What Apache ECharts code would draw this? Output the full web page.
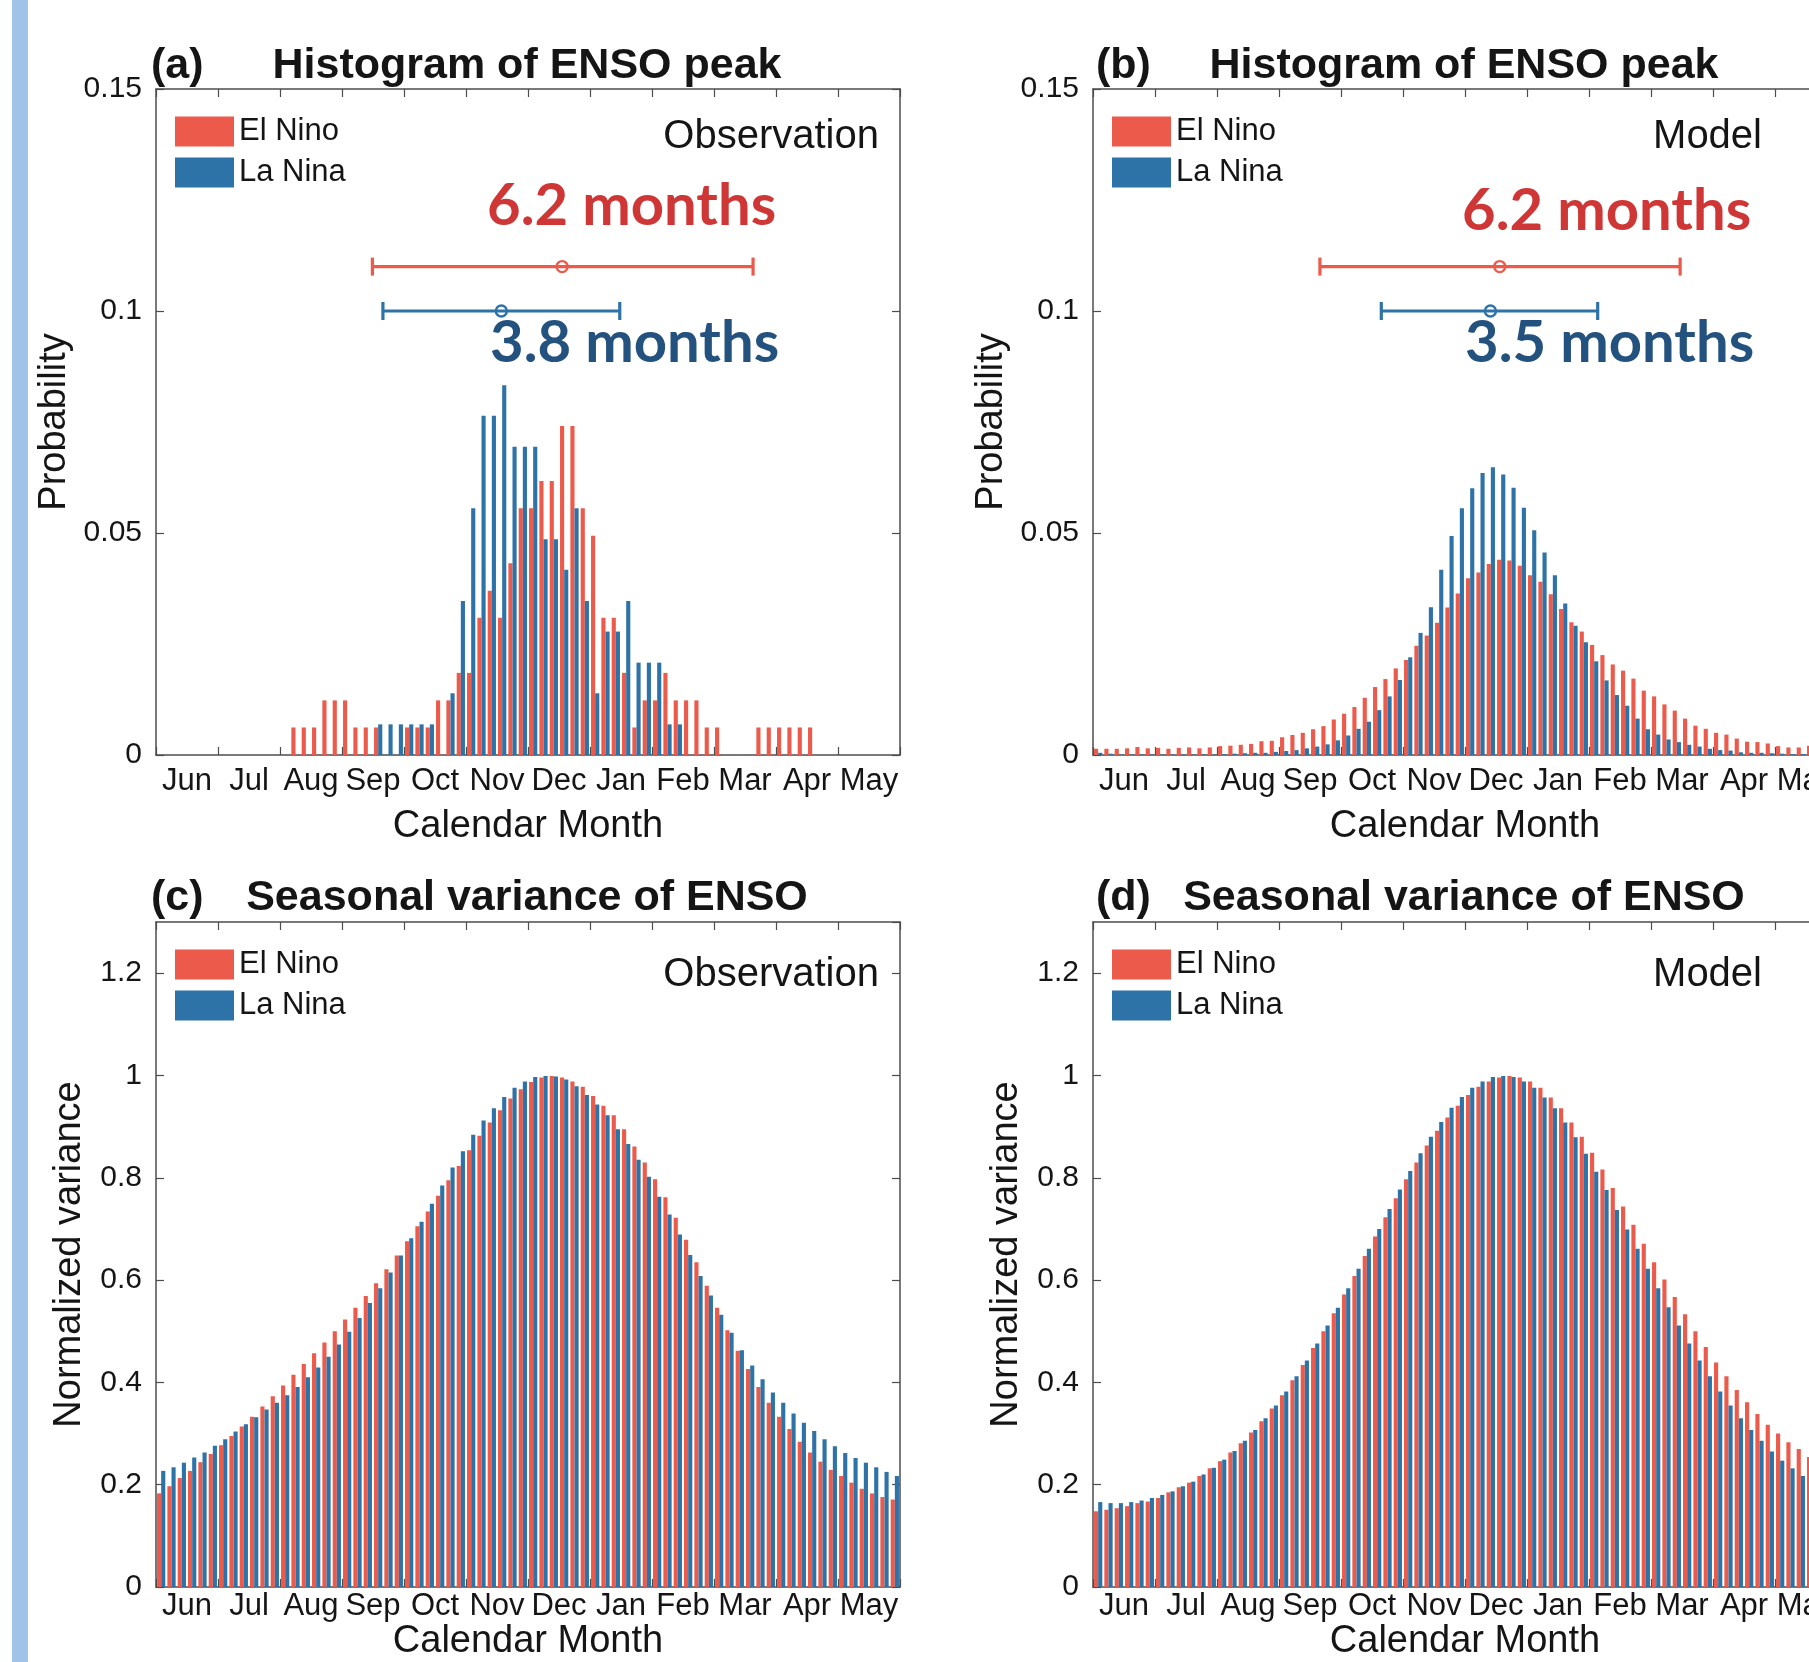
<!DOCTYPE html>
<html>
<head>
<meta charset="utf-8">
<script src="https://cdn.jsdelivr.net/npm/echarts@6/dist/echarts.min.js"></script>
<style>
  html, body { margin: 0; padding: 0; background: #fff; }
  #chart { width: 1809px; height: 1662px; }
</style>
</head>
<body>
<div id="chart"></div>
<script>
// months on the x axis, each split in 6 bins (72 bins, Jun -> May)
var months = ['Jun', 'Jul', 'Aug', 'Sep', 'Oct', 'Nov', 'Dec', 'Jan', 'Feb', 'Mar', 'Apr', 'May'];
var binsPerMonth = 6;

// (a) histogram of ENSO peak, observation
var obsPeakElNino = [
  0, 0, 0, 0, 0, 0,
  0, 0, 0, 0, 0, 0,
  0, 0.0062, 0.0062, 0.0062, 0.0123, 0.0123,
  0.0123, 0.0062, 0.0062, 0.0062, 0, 0,
  0.0062, 0.0062, 0.0062, 0.0123, 0.0123, 0.0185,
  0.0185, 0.0309, 0.0370, 0.0309, 0.0432, 0.0556,
  0.0556, 0.0617, 0.0617, 0.0741, 0.0741, 0.0556,
  0.0494, 0.0309, 0.0309, 0.0185, 0.0062, 0.0123,
  0.0123, 0.0185, 0.0123, 0.0123, 0.0123, 0.0062,
  0.0062, 0, 0, 0, 0.0062, 0.0062,
  0.0062, 0.0062, 0.0062, 0.0062, 0, 0,
  0, 0, 0, 0, 0, 0
];
var obsPeakLaNina = [
  0, 0, 0, 0, 0, 0,
  0, 0, 0, 0, 0, 0,
  0, 0, 0, 0, 0, 0,
  0, 0, 0, 0.0069, 0.0069, 0.0069,
  0.0069, 0.0069, 0.0069, 0, 0.0139, 0.0347,
  0.0556, 0.0764, 0.0764, 0.0833, 0.0694, 0.0694,
  0.0694, 0.0486, 0.0486, 0.0417, 0.0556, 0.0347,
  0.0139, 0.0278, 0.0278, 0.0347, 0.0208, 0.0208,
  0.0208, 0.0069, 0.0069, 0, 0, 0,
  0, 0, 0, 0, 0, 0,
  0, 0, 0, 0, 0, 0,
  0, 0, 0, 0, 0, 0
];

// (b) histogram of ENSO peak, model
var modelPeakElNino = [
  0.0014, 0.0014, 0.0014, 0.0015, 0.0018, 0.0015,
  0.0016, 0.0014, 0.0016, 0.0017, 0.0015, 0.0017,
  0.0020, 0.0021, 0.0023, 0.0025, 0.0031, 0.0032,
  0.0040, 0.0045, 0.0050, 0.0058, 0.0065, 0.0080,
  0.0093, 0.0108, 0.0129, 0.0153, 0.0171, 0.0195,
  0.0214, 0.0246, 0.0269, 0.0298, 0.0332, 0.0364,
  0.0398, 0.0411, 0.0430, 0.0440, 0.0438, 0.0426,
  0.0405, 0.0390, 0.0362, 0.0329, 0.0299, 0.0278,
  0.0248, 0.0225, 0.0204, 0.0190, 0.0172, 0.0145,
  0.0132, 0.0114, 0.0100, 0.0082, 0.0066, 0.0059,
  0.0050, 0.0046, 0.0037, 0.0030, 0.0029, 0.0026,
  0.0020, 0.0017, 0.0017, 0.0021, 0.0018, 0.0016
];
var modelPeakLaNina = [
  0.0005, 0.0003, 0.0001, 0.0001, 0.0001, 0.0001,
  0.0001, 0.0001, 0.0001, 0.0001, 0.0001, 0.0001,
  0.0002, 0.0003, 0.0004, 0.0005, 0.0005, 0.0007,
  0.0009, 0.0011, 0.0015, 0.0019, 0.0024, 0.0033,
  0.0044, 0.0059, 0.0075, 0.0101, 0.0132, 0.0169,
  0.0220, 0.0275, 0.0333, 0.0417, 0.0493, 0.0556,
  0.0601, 0.0635, 0.0648, 0.0632, 0.0602, 0.0557,
  0.0506, 0.0456, 0.0405, 0.0341, 0.0291, 0.0254,
  0.0211, 0.0168, 0.0135, 0.0111, 0.0082, 0.0058,
  0.0046, 0.0035, 0.0029, 0.0023, 0.0019, 0.0014,
  0.0011, 0.0010, 0.0006, 0.0005, 0.0005, 0.0004,
  0.0003, 0.0002, 0.0002, 0.0002, 0.0002, 0.0001
];

// (c) seasonal variance of ENSO, observation
var obsVarElNino = [
  0.183, 0.197, 0.213, 0.227, 0.244, 0.260,
  0.277, 0.295, 0.314, 0.333, 0.353, 0.373,
  0.394, 0.415, 0.436, 0.457, 0.478, 0.500,
  0.523, 0.546, 0.569, 0.594, 0.621, 0.648,
  0.676, 0.705, 0.734, 0.765, 0.795, 0.823,
  0.854, 0.882, 0.908, 0.932, 0.955, 0.973,
  0.987, 0.996, 0.999, 0.996, 0.988, 0.978,
  0.960, 0.941, 0.922, 0.895, 0.861, 0.830,
  0.797, 0.762, 0.722, 0.679, 0.635, 0.589,
  0.546, 0.502, 0.462, 0.426, 0.391, 0.360,
  0.333, 0.309, 0.284, 0.263, 0.245, 0.229,
  0.217, 0.204, 0.192, 0.183, 0.176, 0.171
];
var obsVarLaNina = [
  0.227, 0.234, 0.243, 0.253, 0.263, 0.276,
  0.289, 0.304, 0.318, 0.332, 0.347, 0.360,
  0.375, 0.391, 0.410, 0.429, 0.450, 0.474,
  0.499, 0.526, 0.555, 0.584, 0.615, 0.648,
  0.682, 0.714, 0.749, 0.785, 0.820, 0.852,
  0.884, 0.912, 0.936, 0.958, 0.976, 0.988,
  0.997, 0.999, 0.998, 0.992, 0.979, 0.962,
  0.943, 0.922, 0.895, 0.866, 0.835, 0.802,
  0.763, 0.728, 0.689, 0.649, 0.608, 0.570,
  0.532, 0.497, 0.463, 0.433, 0.406, 0.380,
  0.360, 0.339, 0.321, 0.305, 0.289, 0.275,
  0.262, 0.252, 0.243, 0.234, 0.225, 0.217
];

// (d) seasonal variance of ENSO, model
var modelVarElNino = [
  0.148, 0.151, 0.154, 0.158, 0.164, 0.167,
  0.174, 0.185, 0.195, 0.204, 0.217, 0.232,
  0.246, 0.263, 0.281, 0.302, 0.324, 0.349,
  0.375, 0.404, 0.434, 0.467, 0.500, 0.535,
  0.572, 0.608, 0.647, 0.685, 0.723, 0.760,
  0.797, 0.830, 0.863, 0.892, 0.918, 0.941,
  0.962, 0.978, 0.988, 0.996, 0.999, 0.996,
  0.988, 0.976, 0.957, 0.936, 0.908, 0.880,
  0.849, 0.816, 0.780, 0.744, 0.708, 0.671,
  0.635, 0.601, 0.567, 0.533, 0.500, 0.469,
  0.439, 0.412, 0.385, 0.361, 0.338, 0.317,
  0.300, 0.283, 0.270, 0.254, 0.240, 0.228
];
var modelVarLaNina = [
  0.166, 0.164, 0.164, 0.166, 0.169, 0.174,
  0.180, 0.187, 0.197, 0.206, 0.220, 0.233,
  0.249, 0.266, 0.286, 0.307, 0.330, 0.355,
  0.382, 0.412, 0.443, 0.476, 0.511, 0.546,
  0.584, 0.622, 0.661, 0.700, 0.739, 0.777,
  0.813, 0.848, 0.880, 0.909, 0.937, 0.958,
  0.976, 0.988, 0.997, 0.999, 0.997, 0.988,
  0.976, 0.957, 0.936, 0.908, 0.879, 0.847,
  0.812, 0.776, 0.737, 0.699, 0.661, 0.622,
  0.584, 0.547, 0.511, 0.476, 0.443, 0.412,
  0.382, 0.355, 0.330, 0.307, 0.286, 0.265,
  0.247, 0.232, 0.217, 0.205, 0.195, 0.186
];

// spread of the peak time: [left, mean, right] in months from 1 Jun, then probability level
var obsSpreadElNino = [3.49, 6.55, 9.63, 0.11];
var obsSpreadLaNina = [3.66, 5.57, 7.48, 0.10];
var modelSpreadElNino = [3.66, 6.56, 9.47, 0.11];
var modelSpreadLaNina = [4.65, 6.41, 8.14, 0.10];

var elNinoColor = '#EC5A4B';
var laNinaColor = '#2E73A7';
var fontFamily = '"Liberation Sans", Arial, Helvetica, sans-serif';
var axisColor = '#4d4d4d';
var textColor = '#151515';

var binLabels = [];
months.forEach(function (m) {
  for (var k = 1; k <= binsPerMonth; k++) binLabels.push(m + ' ' + k);
});

var plotWidth = 744;
var panels = [
  { left: 156, top: 89, height: 666, yMax: 0.15, yStep: 0.05, yName: 'Probability',
    red: obsPeakElNino, blue: obsPeakLaNina, redSpread: obsSpreadElNino, blueSpread: obsSpreadLaNina,
    labelMargin: 11, xNameGap: 53, yNameGap: 82, showMax: true },
  { left: 1093, top: 89, height: 666, yMax: 0.15, yStep: 0.05, yName: 'Probability',
    red: modelPeakElNino, blue: modelPeakLaNina, redSpread: modelSpreadElNino, blueSpread: modelSpreadLaNina,
    labelMargin: 11, xNameGap: 53, yNameGap: 82, showMax: true },
  { left: 156, top: 922, height: 665, yMax: 1.3, yStep: 0.2, yName: 'Normalized variance',
    red: obsVarElNino, blue: obsVarLaNina,
    labelMargin: 4, xNameGap: 36, yNameGap: 67, showMax: false },
  { left: 1093, top: 922, height: 665, yMax: 1.3, yStep: 0.2, yName: 'Normalized variance',
    red: modelVarElNino, blue: modelVarLaNina,
    labelMargin: 4, xNameGap: 36, yNameGap: 67, showMax: false }
];

function errorBar(p, spread, color) {
  return {
    type: 'custom',
    xAxisIndex: 4 * p + 3,
    yAxisIndex: 2 * p,
    silent: true,
    z: 5,
    encode: { x: [0, 1, 2], y: 3 },
    data: [spread],
    renderItem: function (params, api) {
      var y = api.value(3);
      var a = api.coord([api.value(0), y]);
      var m = api.coord([api.value(1), y]);
      var b = api.coord([api.value(2), y]);
      var cap = 9;
      return {
        type: 'group',
        children: [
          { type: 'line', shape: { x1: a[0], y1: a[1], x2: b[0], y2: b[1] }, style: { stroke: color, lineWidth: 3.2 } },
          { type: 'line', shape: { x1: a[0], y1: a[1] - cap, x2: a[0], y2: a[1] + cap }, style: { stroke: color, lineWidth: 3.2 } },
          { type: 'line', shape: { x1: b[0], y1: b[1] - cap, x2: b[0], y2: b[1] + cap }, style: { stroke: color, lineWidth: 3.2 } },
          { type: 'circle', shape: { cx: m[0], cy: m[1], r: 5.5 }, style: { stroke: color, lineWidth: 2.4, fill: 'none' } }
        ]
      };
    }
  };
}

var grids = [], xAxes = [], yAxes = [], series = [], legends = [];
var lineStyle = { color: axisColor, width: 1.5 };
var tickStyle = { color: axisColor, width: 1.2 };

panels.forEach(function (pn, p) {
  grids.push({ left: pn.left, top: pn.top, width: plotWidth, height: pn.height, outerBoundsMode: 'none', containLabel: false });

  // 72 bins for the bars
  xAxes.push({ type: 'category', gridIndex: p, data: binLabels, show: false, position: 'bottom' });
  // months with labels, bottom
  xAxes.push({
    type: 'category', gridIndex: p, data: months, position: 'bottom', boundaryGap: true,
    axisLine: { show: true, onZero: false, lineStyle: lineStyle },
    axisTick: { show: true, inside: true, length: 8, interval: 0, alignWithLabel: false, lineStyle: tickStyle },
    axisLabel: { interval: 0, margin: pn.labelMargin, fontSize: 31, fontFamily: fontFamily, color: textColor },
    name: 'Calendar Month', nameLocation: 'middle', nameGap: pn.xNameGap,
    nameTextStyle: { fontSize: 38, fontFamily: fontFamily, color: textColor },
    splitLine: { show: false }
  });
  // months, top box edge
  xAxes.push({
    type: 'category', gridIndex: p, data: months, position: 'top', boundaryGap: true,
    axisLine: { show: true, onZero: false, lineStyle: lineStyle },
    axisTick: { show: true, inside: true, length: 8, interval: 0, alignWithLabel: false, lineStyle: tickStyle },
    axisLabel: { show: false }, splitLine: { show: false }
  });
  // months as numbers for the spread bars
  xAxes.push({ type: 'value', gridIndex: p, min: 0, max: 12, show: false, position: 'bottom' });

  yAxes.push({
    type: 'value', gridIndex: p, min: 0, max: pn.yMax, interval: pn.yStep, position: 'left',
    axisLine: { show: true, onZero: false, lineStyle: lineStyle },
    axisTick: { show: true, inside: true, length: 8, lineStyle: tickStyle },
    axisLabel: { margin: 14, fontSize: 30, fontFamily: fontFamily, color: textColor, showMaxLabel: pn.showMax },
    splitLine: { show: false },
    name: pn.yName, nameLocation: 'middle', nameGap: pn.yNameGap,
    nameTextStyle: { fontSize: 38, fontFamily: fontFamily, color: textColor }
  });
  yAxes.push({
    type: 'value', gridIndex: p, min: 0, max: pn.yMax, interval: pn.yStep, position: 'right',
    axisLine: { show: true, onZero: false, lineStyle: lineStyle },
    axisTick: { show: true, inside: true, length: 8, lineStyle: tickStyle },
    axisLabel: { show: false }, splitLine: { show: false }
  });

  series.push({
    name: 'El Nino', type: 'bar', xAxisIndex: 4 * p, yAxisIndex: 2 * p,
    data: pn.red, barWidth: '40%', barGap: '0%', itemStyle: { color: elNinoColor }
  });
  series.push({
    name: 'La Nina', type: 'bar', xAxisIndex: 4 * p, yAxisIndex: 2 * p,
    data: pn.blue, barWidth: '40%', barGap: '0%', itemStyle: { color: laNinaColor }
  });
  if (pn.redSpread) {
    series.push(errorBar(p, pn.redSpread, elNinoColor));
    series.push(errorBar(p, pn.blueSpread, laNinaColor));
  }

  legends.push({
    data: ['El Nino', 'La Nina'], orient: 'vertical', left: pn.left + 19, top: pn.top + 27,
    icon: 'rect', itemWidth: 59, itemHeight: 30, itemGap: 10, padding: 0, selectedMode: false,
    textStyle: { fontSize: 31, fontFamily: fontFamily, color: textColor }
  });
});

function label(text, x, y, font, color, align) {
  return {
    type: 'text', x: x, y: y, silent: true,
    style: { text: text, font: font, fill: color || textColor, align: align || 'left', verticalAlign: 'middle' }
  };
}
var titleFont = 'bold 43px ' + fontFamily;
var noteFont = '40px ' + fontFamily;
var bigFont = 'bold 58px Lato, "Open Sans", sans-serif';

var graphics = [
  { type: 'rect', shape: { x: 12, y: 0, width: 16, height: 1662 }, style: { fill: '#A0C4E8' }, silent: true },
  label('(a)', 151, 66, titleFont),
  label('Histogram of ENSO peak', 527, 66, titleFont, null, 'center'),
  label('(b)', 1096, 66, titleFont),
  label('Histogram of ENSO peak', 1464, 66, titleFont, null, 'center'),
  label('(c)', 151, 898, titleFont),
  label('Seasonal variance of ENSO', 527, 898, titleFont, null, 'center'),
  label('(d)', 1096, 898, titleFont),
  label('Seasonal variance of ENSO', 1464, 898, titleFont, null, 'center'),
  label('Observation', 879, 137, noteFont, null, 'right'),
  label('Model', 1762, 137, noteFont, null, 'right'),
  label('Observation', 879, 975, noteFont, null, 'right'),
  label('Model', 1762, 975, noteFont, null, 'right'),
  label('6.2 months', 487, 206, bigFont, '#CF3737'),
  label('3.8 months', 490, 343, bigFont, '#24527F'),
  label('6.2 months', 1462, 211, bigFont, '#CF3737'),
  label('3.5 months', 1465, 343, bigFont, '#24527F')
];

var chart = echarts.init(document.getElementById('chart'), null, { renderer: 'canvas' });
chart.setOption({
  backgroundColor: '#ffffff',
  animation: false,
  grid: grids,
  xAxis: xAxes,
  yAxis: yAxes,
  legend: legends,
  graphic: graphics,
  series: series
});
</script>
</body>
</html>
